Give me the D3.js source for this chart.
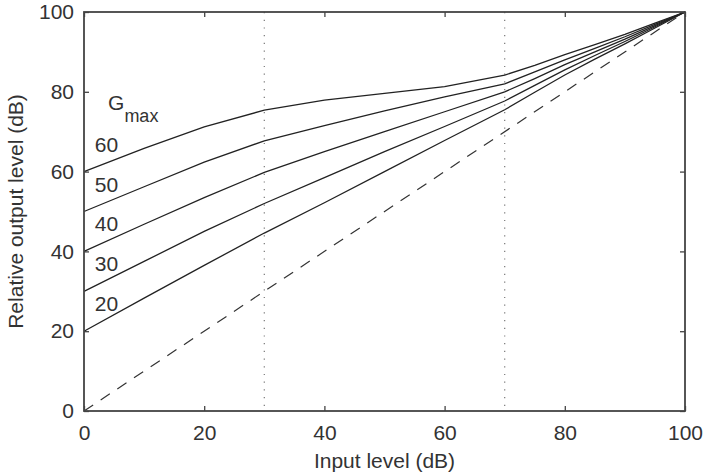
<!DOCTYPE html>
<html>
<head>
<meta charset="utf-8">
<script src="https://cdn.jsdelivr.net/npm/d3@7"></script>
<style>
  body { margin: 0; background: #fff; }
  text { font-family: "Liberation Sans", Arial, sans-serif; fill: #333; }
</style>
</head>
<body>
<div id="chart"></div>
<script>
// Data
//= ================================
var inputLevels = [0, 10, 20, 30, 40, 50, 60, 70, 75, 80, 85, 90, 95, 100];
var gmaxLabels = ["60", "50", "40", "30", "20"];
var out60 = [60, 65.8, 71.2, 75.4, 77.9, 79.6, 81.3, 84.2, 86.6, 89.3, 91.8, 94.4, 97.2, 100];
var out50 = [50, 56.2, 62.4, 67.7, 71.5, 75.2, 78.7, 82.0, 85.0, 88.0, 90.9, 93.8, 96.9, 100];
var out40 = [40, 46.8, 53.5, 59.8, 65.0, 70.0, 75.0, 80.0, 83.3, 86.8, 90.0, 93.2, 96.6, 100];
var out30 = [30, 37.5, 45.0, 52.0, 58.5, 65.0, 71.3, 77.7, 81.6, 85.5, 89.1, 92.6, 96.3, 100];
var out20 = [20, 28.3, 36.5, 44.6, 52.2, 60.0, 67.8, 75.5, 79.9, 84.2, 88.2, 92.0, 96.0, 100];
var allSeries = [out60, out50, out40, out30, out20];
var labelY = [65, 55, 45, 35, 25];
var regionBounds = [30, 70];
var tickValues = [0, 20, 40, 60, 80, 100];

// Set up chart
var svgWidth = 704;
var svgHeight = 472;
var margin = { top: 12, right: 19, bottom: 61, left: 84 };
var width = svgWidth - margin.left - margin.right;
var height = svgHeight - margin.top - margin.bottom;

var svg = d3.select("#chart")
  .append("svg")
  .attr("width", svgWidth)
  .attr("height", svgHeight);

var chartGroup = svg.append("g")
  .attr("transform", `translate(${margin.left}, ${margin.top})`);

var x = d3.scaleLinear().domain([0, 100]).range([0, width]);
var y = d3.scaleLinear().domain([0, 100]).range([height, 0]);

// axes with inward ticks on all four sides
function styleAxis(g) {
  g.select(".domain").remove();
  g.selectAll("line").attr("stroke", "#444").attr("stroke-width", 1.3);
  g.selectAll("text").style("font-size", "21px").attr("fill", "#333");
}

chartGroup.append("g")
  .attr("transform", `translate(0, ${height})`)
  .call(d3.axisBottom(x).tickValues(tickValues).tickSizeInner(-5).tickSizeOuter(0).tickPadding(14))
  .call(styleAxis);

chartGroup.append("g")
  .call(d3.axisLeft(y).tickValues(tickValues).tickSizeInner(-5).tickSizeOuter(0).tickPadding(10))
  .call(styleAxis);

chartGroup.append("g")
  .call(d3.axisTop(x).tickValues(tickValues).tickSizeInner(-5).tickSizeOuter(0).tickFormat(""))
  .call(styleAxis);

chartGroup.append("g")
  .attr("transform", `translate(${width}, 0)`)
  .call(d3.axisRight(y).tickValues(tickValues).tickSizeInner(-5).tickSizeOuter(0).tickFormat(""))
  .call(styleAxis);

// dotted region boundaries
chartGroup.selectAll(".bound")
  .data(regionBounds)
  .enter()
  .append("line")
  .attr("x1", d => x(d))
  .attr("x2", d => x(d))
  .attr("y1", 0)
  .attr("y2", height)
  .attr("stroke", "#777")
  .attr("stroke-width", 1.2)
  .attr("stroke-dasharray", "1.2,6.5");

// unity line
chartGroup.append("line")
  .attr("x1", x(0))
  .attr("y1", y(0))
  .attr("x2", x(100))
  .attr("y2", y(100))
  .attr("stroke", "#333")
  .attr("stroke-width", 1.2)
  .attr("stroke-dasharray", "11,9");

// gain curves
var line = d3.line()
  .x((d, i) => x(inputLevels[i]))
  .y(d => y(d));

chartGroup.selectAll(".curve")
  .data(allSeries)
  .enter()
  .append("path")
  .attr("d", line)
  .attr("fill", "none")
  .attr("stroke", "#222")
  .attr("stroke-width", 1.3);

// curve labels
chartGroup.selectAll(".glabel")
  .data(gmaxLabels)
  .enter()
  .append("text")
  .attr("x", x(1.8))
  .attr("y", (d, i) => y(labelY[i]))
  .style("font-size", "21px")
  .text(d => d);

var gText = chartGroup.append("text")
  .attr("x", x(4))
  .attr("y", y(75.5))
  .style("font-size", "21px");
gText.append("tspan").text("G");
gText.append("tspan")
  .attr("dy", 12)
  .style("font-size", "18px")
  .text("max");

// axis titles
svg.append("text")
  .attr("x", margin.left + width / 2)
  .attr("y", 468)
  .attr("text-anchor", "middle")
  .style("font-size", "21px")
  .text("Input level (dB)");

svg.append("text")
  .attr("transform", `translate(23, ${margin.top + height / 2}) rotate(-90)`)
  .attr("text-anchor", "middle")
  .style("font-size", "21px")
  .text("Relative output level (dB)");

// frame
chartGroup.append("rect")
  .attr("width", width)
  .attr("height", height)
  .attr("fill", "none")
  .attr("stroke", "#444")
  .attr("stroke-width", 1.8);
</script>
</body>
</html>
